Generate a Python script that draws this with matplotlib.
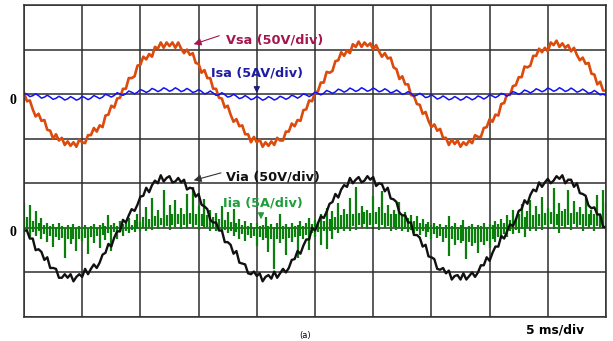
import numpy as np
import matplotlib as mpl
mpl.use('Agg')
import matplotlib.pyplot as plt

# time base: 0.25 ms per sample, 10 div x 5 ms
t = np.arange(201) * 0.25

# source voltage Vsa (V), 50 V/div
vsa = [2, -8, -7, -17, -25, -22, -30, -29, -40, -41, -50, -45, -52, -49, -57, -53, -58, -54, -59, -51,
       -54, -55, -46, -46, -38, -42, -35, -37, -24, -23, -13, -15, -5, -4, 6, 6, 18, 18, 20, 32,
       33, 42, 39, 45, 42, 53, 51, 58, 52, 58, 54, 58, 52, 58, 51, 46, 50, 44, 46, 35,
       34, 24, 27, 18, 18, 6, 6,
       -4, -5, -15, -13, -23, -31, -28, -36, -35, -45, -45, -54, -48, -54, -51, -59, -54, -58, -53, -57,
       -49, -52, -52, -42, -42, -33, -36, -29, -30, -18, -17, -7, -8, 2, 3, 13, 13, 25, 24, 26,
       37, 38, 47, 43, 49, 46, 56, 53, 59, 53, 58, 54, 57, 50, 55, 48, 42, 46, 40, 41,
       30, 28, 17, 20, 11, 11, -1,
       -2, -11, -12, -22, -20, -30, -37, -34, -41, -39, -49, -49, -57, -51, -56, -52, -59, -54, -57, -52,
       -55, -46, -48, -48, -38, -37, -28, -31, -23, -24, -11, -10, 0, -1, 9, 10, 19, 19, 31, 30,
       32, 43, 43, 51, 47, 52, 48, 58, 55, 60, 53, 57, 52, 55, 48, 52, 44, 38, 41, 34,
       35, 23, 22, 11, 14, 4, 4]

# source current Isa (A), 5 A/div
isa = [0.05, 0.01, -0.28, -0.18, 0.03, -0.17, -0.45, -0.34, -0.12, -0.33,
       -0.58, -0.47, -0.24, -0.42, -0.66, -0.53, -0.28, -0.45, -0.68, -0.53,
       -0.25, -0.41, -0.62, -0.45, -0.16, -0.31, -0.50, -0.33, -0.02, -0.15,
       -0.33, -0.15, 0.16, 0.03, -0.14, 0.04, 0.35, 0.22, 0.03, 0.22,
       0.51, 0.38, 0.19, 0.35, 0.64, 0.50, 0.28, 0.44, 0.71, 0.55,
       0.32, 0.46, 0.71, 0.53, 0.28, 0.41, 0.64, 0.44, 0.19, 0.29,
       0.51, 0.31, 0.03, 0.13, 0.35, 0.13, -0.14,
       -0.06, 0.16, -0.06, -0.33, -0.24, -0.02, -0.23, -0.50, -0.40, -0.16,
       -0.36, -0.62, -0.50, -0.25, -0.44, -0.68, -0.54, -0.28, -0.44, -0.66,
       -0.51, -0.24, -0.38, -0.58, -0.42, -0.12, -0.25, -0.45, -0.26, 0.03,
       -0.09, -0.28, -0.08, 0.22, 0.09, -0.08, 0.10, 0.41, 0.27, 0.09,
       0.26, 0.56, 0.43, 0.22, 0.39, 0.68, 0.52, 0.30, 0.45, 0.72,
       0.55, 0.32, 0.45, 0.69, 0.51, 0.26, 0.37, 0.60, 0.41, 0.14,
       0.25, 0.46, 0.25, -0.03, 0.07, 0.28, 0.07,
       -0.22, -0.12, 0.09, -0.12, -0.39, -0.30, -0.07, -0.28, -0.55, -0.43,
       -0.20, -0.40, -0.64, -0.52, -0.27, -0.45, -0.68, -0.54, -0.27, -0.43,
       -0.64, -0.49, -0.20, -0.34, -0.55, -0.37, -0.07, -0.21, -0.39, -0.21,
       0.09, -0.03, -0.22, -0.02, 0.28, 0.16, -0.03, 0.16, 0.46, 0.33,
       0.14, 0.32, 0.60, 0.46, 0.26, 0.42, 0.69, 0.54, 0.32, 0.46,
       0.72, 0.54, 0.30, 0.43, 0.68, 0.48, 0.22, 0.34, 0.56, 0.35,
       0.09, 0.18, 0.41, 0.19, -0.08, 0.00, -0.15]

# inverter voltage Via (V), 50 V/div
via = [-3, -3, -12, -12, -25, -24, -27, -36, -33, -45, -45, -46, -56, -56, -52, -56, -52, -60, -55, -52,
       -55, -46, -52, -46, -41, -45, -39, -30, -28, -18, -21, -11, -4, -4, 9, 6, 14, 21, 19, 26,
       35, 36, 45, 40, 48, 53, 50, 59, 52, 56, 58, 51, 52, 56, 51, 54, 43, 45, 44, 35,
       38, 26, 24, 21, 9, 6, 6,
       -3, -3, -16, -16, -19, -29, -26, -39, -40, -41, -51, -52, -49, -54, -51, -60, -55, -53, -57, -49,
       -56, -51, -46, -50, -45, -36, -35, -26, -29, -20, -13, -13, 0, -3, 5, 13, 11, 18, 27, 29,
       38, 34, 43, 48, 46, 56, 50, 54, 57, 51, 53, 58, 54, 57, 47, 50, 49, 41, 45, 33,
       32, 29, 17, 14, 14, 6, 6,
       -8, -8, -11, -21, -19, -32, -33, -35, -46, -47, -45, -51, -48, -58, -54, -53, -58, -51, -58, -54,
       -50, -55, -50, -42, -42, -33, -37, -28, -21, -21, -9, -12, -4, 4, 2, 9, 19, 21, 31, 27,
       37, 43, 41, 51, 46, 51, 55, 50, 53, 58, 55, 59, 50, 54, 54, 46, 50, 39, 38, 36,
       25, 22, 23, 15, 15, 1, 1]

# inverter current Iia (A), 5 A/div: upper and lower extent of the switching spikes
iia_hi = [2.8, 1.2, 2.6, 0.8, 1.9, 0.5, 1.1, 0.3, 0.6, 0.2,
          0.4, 0.1, 0.5, 0.2, 0.0, 0.3, 0.1, 0.4, 0.0, 0.2,
          0.1, 0.3, 0.0, 0.2, 0.4, 0.1, 0.3, 0.6, 0.2, 1.4,
          0.3, 0.5, 0.2, 0.8, 0.4, 0.6, 1.1, 0.3, 0.9, 1.6,
          0.7, 1.2, 2.3, 1.0, 3.4, 1.3, 2.0, 1.1, 4.3, 1.4,
          2.6, 1.5, 3.1, 1.6, 2.2, 1.5, 3.8, 1.7, 4.6, 1.6,
          2.4, 1.5, 3.2, 1.4, 2.0, 1.2, 1.7, 1.0, 2.5, 0.9,
          1.8, 0.7, 2.1, 0.6, 1.0, 0.3, 0.8, 0.2, 0.5, 0.1,
          0.6, 0.2, 0.3, 1.2, 0.2, 0.4, 0.1, 0.5, 1.5, 0.2,
          0.4, 0.1, 0.6, 0.2, 0.3, 0.8, 0.2, 0.5, 1.1, 0.4,
          0.9, 0.7, 1.6, 0.8, 2.2, 1.0, 1.9, 1.2, 2.8, 1.4,
          2.1, 1.5, 3.3, 1.6, 4.6, 1.7, 2.5, 1.8, 2.0, 1.7,
          3.6, 1.8, 2.3, 4.1, 1.7, 2.6, 1.6, 2.0, 1.5, 2.9,
          1.3, 1.8, 1.1, 1.4, 0.8, 1.3, 0.6, 1.0, 0.4, 0.7,
          0.3, 0.5, 0.2, 0.4, 0.1, 0.3, 1.3, 0.2, 0.5, 0.1,
          0.3, 0.9, 0.1, 0.2, 0.4, 0.1, 0.3, 0.2, 0.6, 0.1,
          0.4, 0.3, 0.8, 0.4, 1.0, 0.6, 1.4, 0.9, 2.0, 1.1,
          1.6, 2.7, 1.2, 1.9, 3.1, 1.4, 2.4, 1.6, 3.5, 1.7,
          2.2, 1.8, 4.5, 1.6, 2.8, 1.9, 2.1, 4.2, 1.7, 3.0,
          1.8, 2.3, 1.6, 3.4, 1.5, 2.0, 1.6, 3.7, 1.4, 4.3,
          2.9]
iia_lo = [-0.8, -0.3, -1.0, -0.5, -0.9, -0.4, -1.3, -0.7, -1.6, -0.9,
          -2.2, -1.0, -1.4, -1.1, -3.4, -1.2, -1.8, -1.3, -2.6, -1.2,
          -1.5, -1.1, -2.9, -1.0, -1.7, -0.9, -2.3, -0.8, -1.4, -0.6,
          -2.6, -0.5, -1.2, -0.4, -0.9, -0.3, -0.6, -0.2, -0.5, -0.1,
          -0.4, 0.0, -0.3, 0.1, -0.2, 0.2, -0.1, 0.3, 0.0, 0.2,
          -0.2, 0.3, 0.1, 0.4, -0.1, 0.3, 0.0, 0.4, 0.1, 0.3,
          -0.2, 0.2, 0.0, 0.1, -0.3, 0.0, -0.4, -0.1, -0.5, -0.2,
          -0.6, -0.4, -0.9, -0.5, -1.2, -0.7, -1.5, -0.8, -1.1, -0.9,
          -2.0, -1.0, -1.4, -1.1, -2.7, -1.2, -4.6, -1.3, -1.7, -1.2,
          -3.1, -1.1, -1.6, -1.0, -3.4, -0.9, -1.3, -0.8, -2.5, -0.6,
          -1.0, -0.5, -1.9, -0.4, -2.4, -0.3, -1.2, -0.2, -0.6, -0.1,
          -0.4, 0.0, -0.3, 0.2, -0.2, 0.3, 0.0, 0.4, -0.1, 0.3,
          0.1, 0.4, -0.2, 0.3, 0.0, 0.2, -0.3, 0.1, -0.2, 0.0,
          -0.4, -0.1, -0.5, -0.2, -0.6, -0.3, -0.8, -0.4, -1.0, -0.5,
          -1.3, -0.7, -1.1, -0.9, -1.6, -1.1, -3.2, -1.3, -1.9, -1.4,
          -1.7, -1.5, -3.5, -1.6, -2.0, -1.7, -2.8, -1.6, -1.9, -1.5,
          -2.3, -1.3, -1.6, -1.0, -1.3, -0.7, -1.0, -0.4, -0.7, -0.2,
          -0.6, -0.1, -1.0, 0.0, -0.4, 0.1, -0.3, 0.2, -0.2, 0.3,
          0.0, 0.4, -0.1, 0.3, -0.6, 0.2, 0.0, 0.3, -0.2, 0.4,
          0.1, 0.3, -0.4, 0.2, 0.0, 0.3, -0.3, 0.2, 0.0, 0.1,
          -0.2]

# screen layout: upper channel zero at 5 div, lower channel zero at 2 div
V_DIV = 50.0
I_DIV = 5.0
top_zero = 5
bot_zero = 2

fig = plt.figure(figsize=(6.13, 3.41), dpi=100, facecolor='white')
ax = fig.add_axes([24 / 613, 24 / 341, 582 / 613, 312 / 341])
ax.set_xlim(0, 50)
ax.set_ylim(0, 7)
ax.set_xticks(np.arange(0, 51, 5))
ax.set_yticks(np.arange(0, 8, 1))
ax.grid(True, color='#2e2e2e', lw=1.1)
ax.set_axisbelow(True)
ax.tick_params(length=0, labelbottom=False, labelleft=False)
for s in ax.spines.values():
    s.set_color('#2e2e2e')
    s.set_linewidth(1.1)

# upper traces
ax.plot(t, top_zero + np.array(vsa) / V_DIV, color='#dc4a0c', lw=1.9)
ax.plot(t, top_zero + np.array(isa) / I_DIV, color='#1212f0', lw=1.1)

# lower traces
ax.vlines(t, bot_zero + np.array(iia_lo) / I_DIV, bot_zero + np.array(iia_hi) / I_DIV,
          color='#0b7f0b', lw=1.6)
ax.plot(t, bot_zero + np.array(via) / V_DIV, color='#111111', lw=1.7)

lab = dict(fontfamily='DejaVu Sans', fontweight='bold', fontsize=9.3, va='center', ha='left')

ax.text(17.35, 6.21, 'Vsa (50V/div)', color='#a3174f', **lab)
ax.annotate('', xy=(14.35, 6.10), xytext=(17.0, 6.33),
            arrowprops=dict(arrowstyle='-|>', color='#a3174f', lw=0.8, mutation_scale=11))

ax.text(16.07, 5.47, 'Isa (5AV/div)', color='#1c1ca6', **lab)
ax.annotate('', xy=(20.0, 4.96), xytext=(20.0, 5.24),
            arrowprops=dict(arrowstyle='-|>', color='#1c1c80', lw=0.9, mutation_scale=9))

ax.text(17.35, 3.14, 'Via (50V/div)', color='#111111', **lab)
ax.annotate('', xy=(14.35, 3.05), xytext=(17.15, 3.25),
            arrowprops=dict(arrowstyle='-|>', color='#333333', lw=0.8, mutation_scale=11))

ax.text(17.1, 2.56, 'Iia (5A/div)', color='#1f9e3c', **lab)
ax.annotate('', xy=(20.36, 2.13), xytext=(20.36, 2.40),
            arrowprops=dict(arrowstyle='-|>', color='#1f9e3c', lw=0.9, mutation_scale=9))

# zero markers and time scale
zero = dict(fontfamily='Liberation Serif', fontweight='bold', fontsize=10, ha='center', va='center')
fig.text(13 / 613, 1 - 100 / 341, '0', **zero)
fig.text(13 / 613, 1 - 233 / 341, '0', **zero)
fig.text(555 / 613, 1 - 330 / 341, '5 ms/div', fontfamily='DejaVu Sans', fontweight='bold',
         fontsize=8.8, ha='center', va='center')
fig.text(305 / 613, 0.002, '(a)', fontfamily='DejaVu Sans', fontsize=6,
         ha='center', va='bottom')

fig.savefig('out.png', dpi=100, facecolor='white')
